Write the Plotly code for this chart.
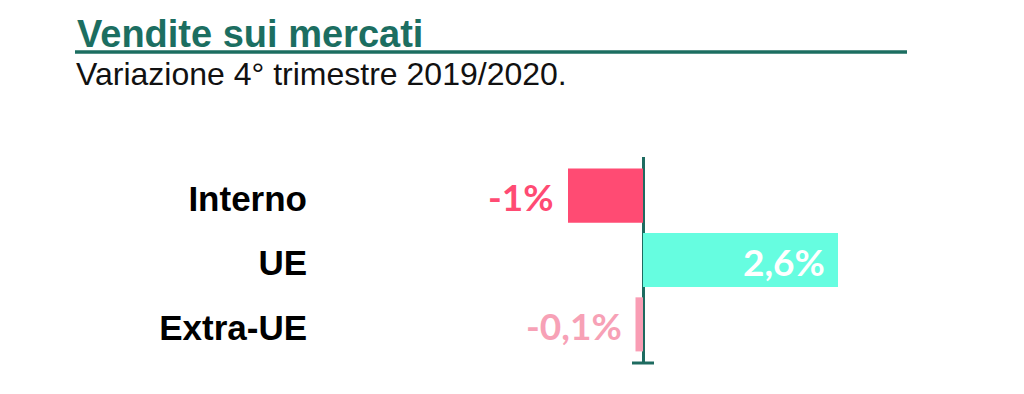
import plotly.graph_objects as go

categories = ["Interno", "UE", "Extra-UE"]
values = [-1.0, 2.6, -0.1]
bar_colors = ["#ff4b73", "#66fde0", "#f99db4"]
label_colors = ["#ff4b73", "#ffffff", "#f7a1b6"]
title_text = "Vendite sui mercati"
subtitle_text = "Variazione 4° trimestre 2019/2020."

W, H = 1024, 394
L, R, T, B = 312, 0, 157, 31
PW, PH = W - L - R, H - T - B
ZERO_PX = 643
K = 75.0  # pixels per percentage point

def pxx(x):
    return (x - L) / PW

def pxy(y):
    return (H - B - y) / PH

def fmt(v):
    return f"{v:g}".replace(".", ",") + "%"

teal = "#1c6e61"
axis_teal = "#1e6b60"
SANS = "Liberation Sans, Arial, sans-serif"

fig = go.Figure()
fig.add_trace(go.Bar(
    y=categories, x=values, orientation="h",
    marker=dict(color=bar_colors, line=dict(width=0)),
    hoverinfo="skip",
))

annotations = []
for cat, v, c in zip(categories, values, label_colors):
    annotations.append(dict(
        x=v, y=cat, xref="x", yref="y", text=f"<b>{fmt(v)}</b>", showarrow=False,
        xanchor="right", yanchor="middle", xshift=-12 if v < 0 else -11, yshift=-1,
        font=dict(family="Lato, Noto Sans, sans-serif", size=37, color=c),
    ))

annotations.append(dict(
    x=pxx(75), y=pxy(34), xref="paper", yref="paper", text=f"<b>{title_text}</b>",
    showarrow=False, xanchor="left", yanchor="middle",
    font=dict(family=SANS, size=38, color=teal),
))
annotations.append(dict(
    x=pxx(74), y=pxy(74), xref="paper", yref="paper", text=subtitle_text,
    showarrow=False, xanchor="left", yanchor="middle",
    font=dict(family=SANS, size=32, color="#111111"),
))

shapes = [
    dict(type="line", xref="paper", yref="paper", x0=pxx(75), x1=pxx(907), y0=pxy(52), y1=pxy(52),
         line=dict(color=teal, width=3.5)),
    dict(type="line", xref="x", yref="paper", xsizemode="pixel", xanchor=0, x0=-11, x1=11, y0=0, y1=0,
         line=dict(color=axis_teal, width=3)),
]

fig.update_layout(
    width=W, height=H,
    margin=dict(l=L, r=R, t=T, b=B, pad=0),
    paper_bgcolor="white", plot_bgcolor="white",
    showlegend=False, bargap=0.16,
    annotations=annotations, shapes=shapes,
    xaxis=dict(range=[-(ZERO_PX - L) / K, (W - R - ZERO_PX) / K],
               showgrid=False, showticklabels=False, ticks="",
               zeroline=True, zerolinecolor=axis_teal, zerolinewidth=3, fixedrange=True),
    yaxis=dict(categoryorder="array", categoryarray=categories, range=[2.6, -0.6],
               showgrid=False, zeroline=False, ticks="", ticklabelstandoff=4, ticklabelshift=-3,
               tickfont=dict(family=SANS, size=35, color="#000000"),
               tickvals=categories, ticktext=[f"<b>{c}</b>" for c in categories],
               fixedrange=True),
)

fig.write_html("out.html", config={"displayModeBar": False})
